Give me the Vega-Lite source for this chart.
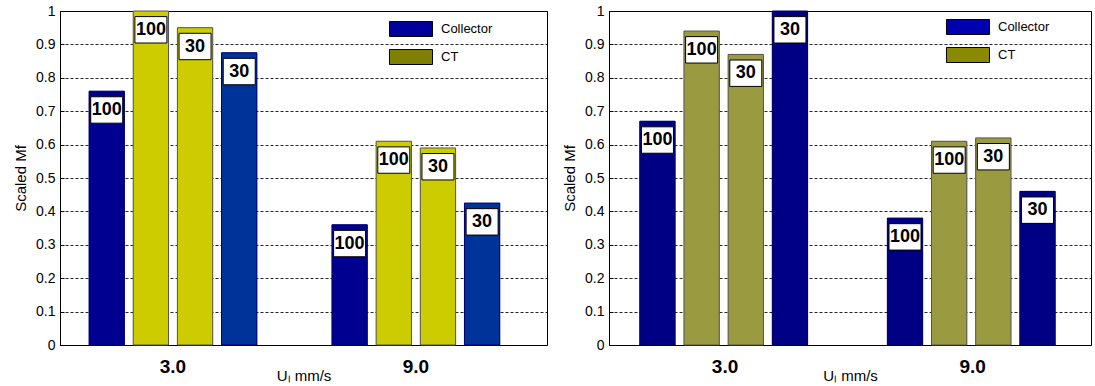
{
  "$schema": "https://vega.github.io/schema/vega-lite/v6.json",
  "padding": {"left": 13, "top": 3, "right": 0, "bottom": 0},
  "spacing": 14,
  "datasets": {
    "left": [
      {"u": "3.0", "kind": "Collector 100", "series": "Collector", "rate": "100", "mf": 0.76},
      {"u": "3.0", "kind": "CT 100", "series": "CT", "rate": "100", "mf": 1.0},
      {"u": "3.0", "kind": "CT 30", "series": "CT", "rate": "30", "mf": 0.95},
      {"u": "3.0", "kind": "Collector 30", "series": "Collector", "rate": "30", "mf": 0.875},
      {"u": "9.0", "kind": "Collector 100", "series": "Collector", "rate": "100", "mf": 0.36},
      {"u": "9.0", "kind": "CT 100", "series": "CT", "rate": "100", "mf": 0.61},
      {"u": "9.0", "kind": "CT 30", "series": "CT", "rate": "30", "mf": 0.59},
      {"u": "9.0", "kind": "Collector 30", "series": "Collector", "rate": "30", "mf": 0.425}
    ],
    "right": [
      {"u": "3.0", "kind": "Collector 100", "series": "Collector", "rate": "100", "mf": 0.67},
      {"u": "3.0", "kind": "CT 100", "series": "CT", "rate": "100", "mf": 0.94},
      {"u": "3.0", "kind": "CT 30", "series": "CT", "rate": "30", "mf": 0.87},
      {"u": "3.0", "kind": "Collector 30", "series": "Collector", "rate": "30", "mf": 1.0},
      {"u": "9.0", "kind": "Collector 100", "series": "Collector", "rate": "100", "mf": 0.38},
      {"u": "9.0", "kind": "CT 100", "series": "CT", "rate": "100", "mf": 0.61},
      {"u": "9.0", "kind": "CT 30", "series": "CT", "rate": "30", "mf": 0.62},
      {"u": "9.0", "kind": "Collector 30", "series": "Collector", "rate": "30", "mf": 0.46}
    ]
  },
  "resolve": {
    "scale": {"fill": "independent", "stroke": "independent"},
    "legend": {"fill": "independent", "stroke": "independent"}
  },
  "config": {
    "font": "Liberation Sans",
    "view": {"stroke": "black", "strokeWidth": 1},
    "axis": {"domain": false, "ticks": false, "grid": false, "labelColor": "black", "titleColor": "black"},
    "legend": {
      "orient": "none",
      "title": null,
      "padding": 0,
      "labelFont": "Liberation Sans",
      "labelFontSize": 13,
      "labelColor": "black",
      "labelOffset": 22,
      "rowPadding": 8,
      "symbolType": "M-2.87,-1H2.87V1H-2.87Z",
      "symbolSize": 225,
      "symbolStrokeColor": "black",
      "symbolStrokeWidth": 1
    }
  },
  "hconcat": [
    {
      "width": 487,
      "height": 334,
      "data": {"name": "left"},
      "encoding": {
        "x": {
          "field": "u", "type": "nominal", "sort": ["3.0", "9.0"],
          "scale": {"paddingInner": 0.309, "paddingOuter": 0.157, "align": 0.381},
          "axis": {
            "title": "Uₗ  mm/s", "labelAngle": 0,
            "labelFont": "Liberation Sans", "labelFontSize": 19, "labelFontWeight": "bold",
            "labelPadding": 12, "titleFont": "Liberation Sans", "titleFontSize": 15,
            "titleFontWeight": "normal", "titlePadding": -8
          }
        },
        "xOffset": {
          "field": "kind", "type": "nominal",
          "sort": ["Collector 100", "CT 100", "CT 30", "Collector 30"],
          "scale": {"paddingInner": 0.2, "paddingOuter": 0}
        },
        "y": {
          "field": "mf", "type": "quantitative",
          "scale": {"domain": [0, 1], "nice": false},
          "axis": {
            "title": "Scaled Mf",
            "values": [0, 0.1, 0.2, 0.3, 0.4, 0.5, 0.6, 0.7, 0.8, 0.9, 1],
            "format": "~g", "grid": true, "gridColor": "black", "gridDash": [3, 2],
            "gridOpacity": 0.85, "ticks": true, "tickSize": -4, "tickColor": "black",
            "labelFont": "Liberation Sans", "labelFontSize": 14,
            "labelPadding": 9, "titleFont": "Liberation Sans", "titleFontSize": 15,
            "titleFontWeight": "normal", "titlePadding": 7
          }
        }
      },
      "layer": [
        {
          "mark": {"type": "bar"},
          "encoding": {
            "fill": {
              "field": "series", "type": "nominal",
              "scale": {"domain": ["Collector", "CT"], "range": ["#00009c", "#808000"]},
              "legend": {
                "legendX": 343, "legendY": 10,
                "encode": {"symbols": {"update": {"stroke": {"value": "black"}, "strokeWidth": {"value": 1}}}}
              }
            }
          }
        },
        {
          "mark": {"type": "bar", "strokeWidth": 1},
          "encoding": {
            "fill": {
              "field": "kind", "type": "nominal",
              "scale": {
                "domain": ["Collector 100", "CT 100", "CT 30", "Collector 30"],
                "range": ["#000090", "#cccc00", "#cccc00", "#003399"]
              },
              "legend": null
            },
            "stroke": {
              "field": "series", "type": "nominal",
              "scale": {"domain": ["Collector", "CT"], "range": ["#000070", "#555555"]},
              "legend": null
            }
          }
        },
        {
          "mark": {"type": "point", "shape": "M-1,0.35H1V2H-1Z", "size": 1024, "filled": true, "fill": "white", "stroke": "black", "strokeWidth": 1, "opacity": 1}
        },
        {
          "mark": {"type": "text", "dy": 19, "baseline": "middle", "align": "center", "font": "Liberation Sans", "fontSize": 18, "fontWeight": "bold", "color": "black"},
          "encoding": {"text": {"field": "rate"}}
        }
      ],
      "resolve": {"scale": {"fill": "independent"}, "legend": {"fill": "independent"}}
    },
    {
      "width": 482,
      "height": 334,
      "data": {"name": "right"},
      "encoding": {
        "x": {
          "field": "u", "type": "nominal", "sort": ["3.0", "9.0"],
          "scale": {"paddingInner": 0.311, "paddingOuter": 0.129, "align": 0.482},
          "axis": {
            "title": "Uₗ  mm/s", "labelAngle": 0,
            "labelFont": "Liberation Sans", "labelFontSize": 19, "labelFontWeight": "bold",
            "labelPadding": 12, "titleFont": "Liberation Sans", "titleFontSize": 15,
            "titleFontWeight": "normal", "titlePadding": -8
          }
        },
        "xOffset": {
          "field": "kind", "type": "nominal",
          "sort": ["Collector 100", "CT 100", "CT 30", "Collector 30"],
          "scale": {"paddingInner": 0.21, "paddingOuter": 0}
        },
        "y": {
          "field": "mf", "type": "quantitative",
          "scale": {"domain": [0, 1], "nice": false},
          "axis": {
            "title": "Scaled Mf",
            "values": [0, 0.1, 0.2, 0.3, 0.4, 0.5, 0.6, 0.7, 0.8, 0.9, 1],
            "format": "~g", "grid": true, "gridColor": "black", "gridDash": [3, 2],
            "gridOpacity": 0.85, "ticks": true, "tickSize": -4, "tickColor": "black",
            "labelFont": "Liberation Sans", "labelFontSize": 14,
            "labelPadding": 9, "titleFont": "Liberation Sans", "titleFontSize": 15,
            "titleFontWeight": "normal", "titlePadding": 7
          }
        }
      },
      "layer": [
        {
          "mark": {"type": "bar"},
          "encoding": {
            "fill": {
              "field": "series", "type": "nominal",
              "scale": {"domain": ["Collector", "CT"], "range": ["#0000b0", "#8a8a00"]},
              "legend": {
                "legendX": 351, "legendY": 8,
                "encode": {"symbols": {"update": {"stroke": {"value": "black"}, "strokeWidth": {"value": 1}}}}
              }
            }
          }
        },
        {
          "mark": {"type": "bar", "strokeWidth": 1},
          "encoding": {
            "fill": {
              "field": "kind", "type": "nominal",
              "scale": {
                "domain": ["Collector 100", "CT 100", "CT 30", "Collector 30"],
                "range": ["#000085", "#9a9a40", "#9a9a40", "#000085"]
              },
              "legend": null
            },
            "stroke": {
              "field": "series", "type": "nominal",
              "scale": {"domain": ["Collector", "CT"], "range": ["#000060", "#555555"]},
              "legend": null
            }
          }
        },
        {
          "mark": {"type": "point", "shape": "M-1,0.35H1V2H-1Z", "size": 1024, "filled": true, "fill": "white", "stroke": "black", "strokeWidth": 1, "opacity": 1}
        },
        {
          "mark": {"type": "text", "dy": 19, "baseline": "middle", "align": "center", "font": "Liberation Sans", "fontSize": 18, "fontWeight": "bold", "color": "black"},
          "encoding": {"text": {"field": "rate"}}
        }
      ],
      "resolve": {"scale": {"fill": "independent"}, "legend": {"fill": "independent"}}
    }
  ]
}
